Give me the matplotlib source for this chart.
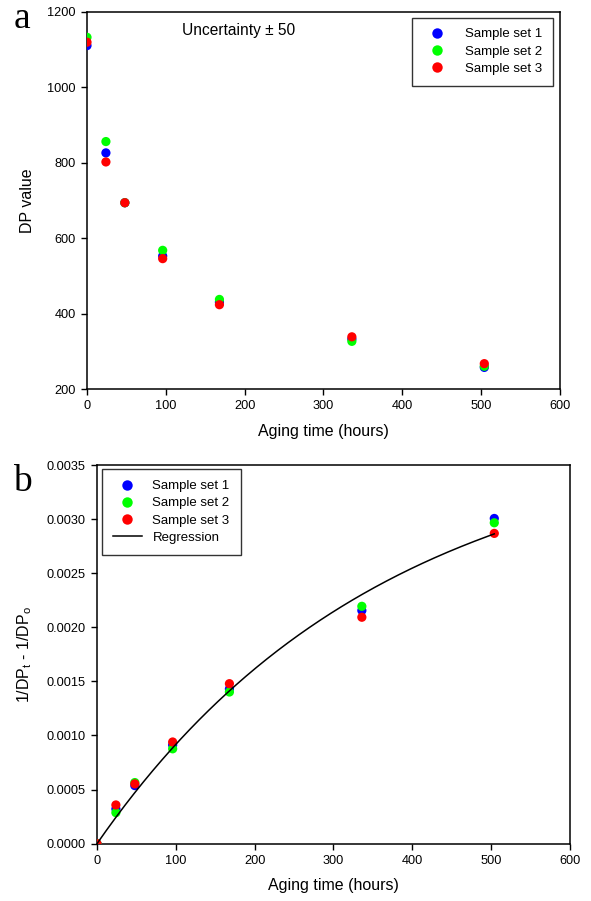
import numpy as np
import matplotlib.pyplot as plt
from matplotlib.lines import Line2D

plt.rcParams['font.family'] = ['Liberation Sans', 'DejaVu Sans']

# aging time (hours)
hours = [0, 24, 48, 96, 168, 336, 504]

# panel a : DP values
dp_set1 = [1110, 826, 694, 553, 431, 333, 258]
dp_set2 = [1132, 856, 694, 568, 438, 327, 261]
dp_set3 = [1119, 802, 694, 546, 424, 339, 268]

# panel b : 1/DPt - 1/DPo
inv_set1 = [0.0, 0.000321, 0.000537, 0.000912, 0.001430, 0.002155, 0.003006]
inv_set2 = [0.0, 0.000287, 0.000565, 0.000877, 0.001402, 0.002194, 0.002966]
inv_set3 = [0.0, 0.000358, 0.000553, 0.000940, 0.001479, 0.002093, 0.002868]

# regression parameters (1/DPt - 1/DPo = k1/k2 * (1 - exp(-k2 t)))
k1 = 1.05e-5
k2 = 2.75e-3

colors = ['#0000ff', '#00ff00', '#ff0000']
labels = ['Sample set 1', 'Sample set 2', 'Sample set 3']

fig = plt.figure(figsize=(5.91, 9.01), dpi=100)
ax1 = fig.add_axes([0.1472, 0.5679, 0.8003, 0.4192])
ax2 = fig.add_axes([0.1641, 0.0636, 0.8003, 0.4203])

dots = [Line2D([], [], marker='o', ls='none', color=c, markeredgewidth=0,
               markersize=7.5) for c in colors]

# ---- panel a
for ys, c, lab in zip([dp_set1, dp_set2, dp_set3], colors, labels):
    ax1.scatter(hours, ys, s=44, color=c, edgecolors='none', label=lab, zorder=3)
ax1.set_xlim(0, 600)
ax1.set_ylim(200, 1200)
ax1.set_xticks(range(0, 601, 100))
ax1.set_yticks(range(200, 1201, 200))
ax1.set_xlabel('Aging time (hours)', fontsize=11.5, labelpad=8)
ax1.set_ylabel('DP value', fontsize=11.5, labelpad=9)
ax1.text(0.2, 0.97, 'Uncertainty \u00b1 50', transform=ax1.transAxes,
         fontsize=11.2, va='top', ha='left')
ax1.legend(dots, labels, loc='upper right', bbox_to_anchor=(0.985, 0.984),
           borderaxespad=0, fontsize=9.5, frameon=True, fancybox=False,
           edgecolor='#333333', framealpha=1, handletextpad=1.0,
           borderpad=0.8, labelspacing=0.38, handlelength=2.2)

# ---- panel b
for ys, c, lab in zip([inv_set1, inv_set2, inv_set3], colors, labels):
    ax2.scatter(hours, ys, s=44, color=c, edgecolors='none', label=lab, zorder=3)
t = np.linspace(0, max(hours), 300)
ax2.plot(t, k1 / k2 * (1 - np.exp(-k2 * t)), color='black', lw=1.1, zorder=4)
ax2.set_xlim(0, 600)
ax2.set_ylim(0, 0.0035)
ax2.set_xticks(range(0, 601, 100))
ax2.set_yticks(np.arange(0, 0.00351, 0.0005))
ax2.set_yticklabels([f'{v:.4f}' for v in np.arange(0, 0.00351, 0.0005)])
ax2.set_xlabel('Aging time (hours)', fontsize=11.5, labelpad=8)
ax2.set_ylabel(r'1/DP$_\mathregular{t}$ - 1/DP$_\mathregular{o}$', fontsize=11.5, labelpad=9)

handles = dots + [Line2D([], [], color='black', lw=1.1)]
ax2.legend(handles, labels + ['Regression'], loc='upper left',
           bbox_to_anchor=(0.0098, 0.99), borderaxespad=0, fontsize=9.5,
           frameon=True, fancybox=False, edgecolor='#333333', framealpha=1,
           handletextpad=0.8, borderpad=0.85, labelspacing=0.38, handlelength=2.2)

for ax in (ax1, ax2):
    ax.tick_params(direction='out', length=4.5, width=1, labelsize=9.2,
                   top=False, right=False)
    for s in ax.spines.values():
        s.set_linewidth(1.1)

fig.text(14 / 591, 1 - 28 / 901, 'a', fontsize=27, family='Liberation Serif',
         ha='left', va='baseline')
fig.text(13 / 591, 1 - 491 / 901, 'b', fontsize=27, family='Liberation Serif',
         ha='left', va='baseline')

fig.savefig('out.png', dpi=100)
